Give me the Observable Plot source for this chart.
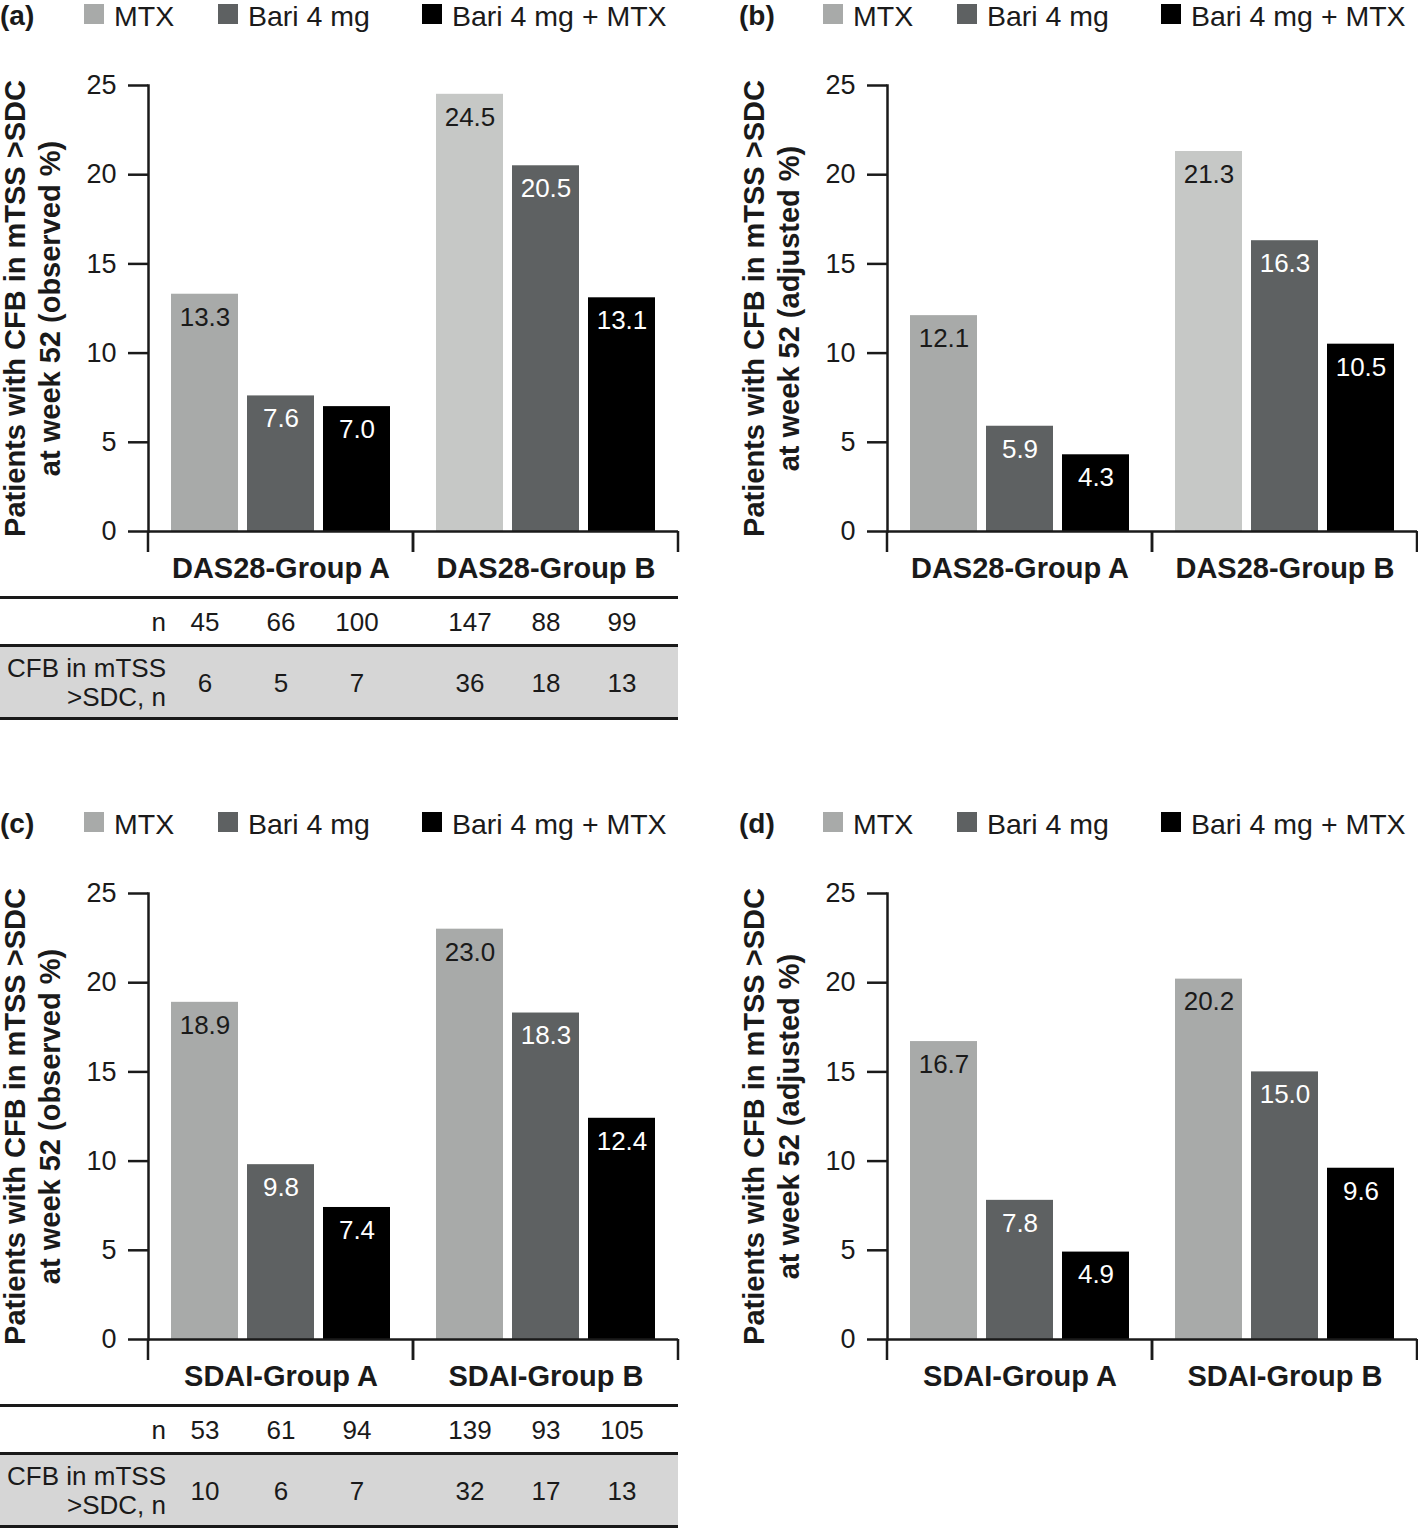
<!DOCTYPE html>
<html>
<head>
<meta charset="utf-8">
<script src="https://cdn.jsdelivr.net/npm/d3@7"></script>
<script src="https://cdn.jsdelivr.net/npm/@observablehq/plot@0.6"></script>
<style>
  html, body { margin: 0; padding: 0; background: #fff; }
  #root { position: relative; width: 1418px; height: 1529px; overflow: hidden; background: #fff;
          font-family: "Liberation Sans", Arial, Helvetica, sans-serif; color: #1a1a1a; }
  .panel { position: absolute; width: 709px; height: 721px; }
  .legend { position: absolute; left: 0; top: 0; height: 34px; width: 709px; }
  .legend .tag { position: absolute; left: 0; top: 0; font-weight: bold; font-size: 28px; line-height: normal; }
  .legend .sw { position: absolute; top: 4px; width: 20px; height: 20px; }
  .legend .lb { position: absolute; top: 0; font-size: 28.5px; line-height: normal; white-space: nowrap; }
  .tline { position: absolute; left: 0; width: 678px; height: 3px; background: #1a1a1a; }
  .tgray { position: absolute; left: 0; width: 678px; box-sizing: border-box; background: #d6d6d6;
           border-top: 3px solid #1a1a1a; border-bottom: 3px solid #1a1a1a; }
  .rowlab { position: absolute; right: calc(709px - 166px); text-align: right; font-size: 26px; white-space: nowrap; }
  .chart { position: absolute; left: 0; top: 40px; z-index: 1; }
</style>
</head>
<body>
<div id="root"></div>
<script>
// ---------- data ----------
const series = ["MTX", "Bari 4 mg", "Bari 4 mg + MTX"];
const seriesColors = ["#a8aaa9", "#5e6162", "#000000"];
const das28Groups = ["DAS28-Group A", "DAS28-Group B"];
const sdaiGroups = ["SDAI-Group A", "SDAI-Group B"];
const yTicks = [0, 5, 10, 15, 20, 25];
const yTitleLine1 = "Patients with CFB in mTSS >SDC";
const yTitleObserved = "at week 52 (observed %)";
const yTitleAdjusted = "at week 52 (adjusted %)";
const rowLabelN = "n";
const rowLabelCfb = "CFB in mTSS\n>SDC, n";
// values: group A (MTX, Bari 4 mg, Bari 4 mg + MTX), then group B (same order)
const das28Observed = [13.3, 7.6, 7.0, 24.5, 20.5, 13.1];
const das28Adjusted = [12.1, 5.9, 4.3, 21.3, 16.3, 10.5];
const sdaiObserved = [18.9, 9.8, 7.4, 23.0, 18.3, 12.4];
const sdaiAdjusted = [16.7, 7.8, 4.9, 20.2, 15.0, 9.6];
const das28N = [45, 66, 100, 147, 88, 99];
const das28Cfb = [6, 5, 7, 36, 18, 13];
const sdaiN = [53, 61, 94, 139, 93, 105];
const sdaiCfb = [10, 6, 7, 32, 17, 13];

const panels = [
  {tag: "(a)", left: 0, top: 0, groups: das28Groups, values: das28Observed, title2: yTitleObserved, n: das28N, cfb: das28Cfb, lightB: true},
  {tag: "(b)", left: 739, top: 0, groups: das28Groups, values: das28Adjusted, title2: yTitleAdjusted, lightB: true},
  {tag: "(c)", left: 0, top: 808, groups: sdaiGroups, values: sdaiObserved, title2: yTitleObserved, n: sdaiN, cfb: sdaiCfb},
  {tag: "(d)", left: 739, top: 808, groups: sdaiGroups, values: sdaiAdjusted, title2: yTitleAdjusted}
];

// ---------- drawing ----------
const INK = "#1a1a1a";
const LIGHT_MTX = "#c6c8c6";
const FONT = '"Liberation Sans", Arial, Helvetica, sans-serif';
const legendSwatchLeft = [84, 218, 422];

function groupEdgeTicks(index, scales, values, dimensions) {
  const r = scales.x && scales.x.range ? scales.x.range() : [dimensions.marginLeft, dimensions.width - dimensions.marginRight];
  const y0 = scales.y(0);
  const g = d3.create("svg:g");
  for (const x of [r[0], r[r.length - 1]]) {
    g.append("line").attr("x1", x).attr("x2", x).attr("y1", y0).attr("y2", y0 + 21)
      .attr("stroke", INK).attr("stroke-width", 2.5);
  }
  return g.node();
}

const root = document.getElementById("root");

for (const cfg of panels) {
  const rows = cfg.groups.flatMap((g, gi) => series.map((s, si) => {
    const k = gi * series.length + si;
    return {group: g, series: s, value: cfg.values[k],
            n: cfg.n ? cfg.n[k] : null, cfb: cfg.cfb ? cfg.cfb[k] : null};
  }));

  const panel = document.createElement("div");
  panel.className = "panel";
  panel.style.left = cfg.left + "px";
  panel.style.top = cfg.top + "px";
  root.appendChild(panel);

  // legend
  const legend = document.createElement("div");
  legend.className = "legend";
  const tag = document.createElement("span");
  tag.className = "tag";
  tag.textContent = cfg.tag;
  legend.appendChild(tag);
  series.forEach((s, i) => {
    const sw = document.createElement("span");
    sw.className = "sw";
    sw.style.left = legendSwatchLeft[i] + "px";
    sw.style.background = seriesColors[i];
    const lb = document.createElement("span");
    lb.className = "lb";
    lb.style.left = (legendSwatchLeft[i] + 30) + "px";
    lb.textContent = s;
    legend.appendChild(sw);
    legend.appendChild(lb);
  });
  panel.appendChild(legend);

  // table background
  if (cfg.n) {
    const l1 = document.createElement("div");
    l1.className = "tline"; l1.style.top = "596px";
    panel.appendChild(l1);
    const gray = document.createElement("div");
    gray.className = "tgray"; gray.style.top = "644px"; gray.style.height = "76px";
    panel.appendChild(gray);
    const rn = document.createElement("div");
    rn.className = "rowlab"; rn.style.top = "607px"; rn.style.lineHeight = "30px";
    rn.textContent = rowLabelN;
    panel.appendChild(rn);
    const rc = document.createElement("div");
    rc.className = "rowlab"; rc.style.top = "654px"; rc.style.lineHeight = "29px";
    rc.style.whiteSpace = "pre";
    rc.textContent = rowLabelCfb;
    panel.appendChild(rc);
  }

  const isMTX = d => d.series === series[0];
  const marks = [
    Plot.barY(rows, {fx: "group", x: "series", y: "value", fill: "series"}),
    cfg.lightB ? Plot.barY(rows, {filter: d => isMTX(d) && d.group === cfg.groups[1],
      fx: "group", x: "series", y: "value", fill: LIGHT_MTX}) : null,
    Plot.text(rows, {filter: isMTX, fx: "group", x: "series", y: "value",
      text: d => d.value.toFixed(1), dy: 23, fontSize: 26, fill: INK}),
    Plot.text(rows, {filter: d => !isMTX(d), fx: "group", x: "series", y: "value",
      text: d => d.value.toFixed(1), dy: 23, fontSize: 26, fill: "white"}),
    Plot.ruleY([0], {stroke: INK, strokeWidth: 2.5}),
    Plot.frame({anchor: "left", facetAnchor: "left", stroke: INK, strokeWidth: 2.5}),
    groupEdgeTicks,
    Plot.axisY({ticks: yTicks, tickSize: 20, tickPadding: 12, fontSize: 27, strokeWidth: 2.5,
      stroke: INK, fill: INK, label: null, tickFormat: d => String(d)}),
    Plot.axisFx({anchor: "bottom", tickSize: 0, tickPadding: 26, fontSize: 29, fontWeight: "bold",
      fill: INK, label: null}),
    Plot.text([cfg.groups[0]], {fx: d => d, frameAnchor: "left", textAnchor: "middle", lineAnchor: "middle",
      rotate: -90, dx: -117, text: () => yTitleLine1 + "\n" + cfg.title2, lineHeight: 1.2, fontSize: 29,
      fontWeight: "bold", fill: INK})
  ];
  if (cfg.n) {
    marks.push(
      Plot.text(rows, {fx: "group", x: "series", text: d => String(d.n), frameAnchor: "bottom",
        lineAnchor: "middle", dy: 91, fontSize: 26, fill: INK}),
      Plot.text(rows, {fx: "group", x: "series", text: d => String(d.cfb), frameAnchor: "bottom",
        lineAnchor: "middle", dy: 152, fontSize: 26, fill: INK})
    );
  }

  const chart = Plot.plot({
    width: 680,
    height: 670,
    marginTop: 45,
    marginBottom: 179,
    marginLeft: 148,
    marginRight: 2,
    style: {fontFamily: FONT, color: INK, background: "transparent", overflow: "visible"},
    fx: {domain: cfg.groups, padding: 0, label: null},
    x: {domain: series, paddingInner: 0.124, paddingOuter: 0.288, axis: null},
    y: {domain: [0, 25]},
    color: {domain: series, range: seriesColors},
    marks
  });
  chart.classList.add("chart");
  panel.appendChild(chart);
}
</script>
</body>
</html>
